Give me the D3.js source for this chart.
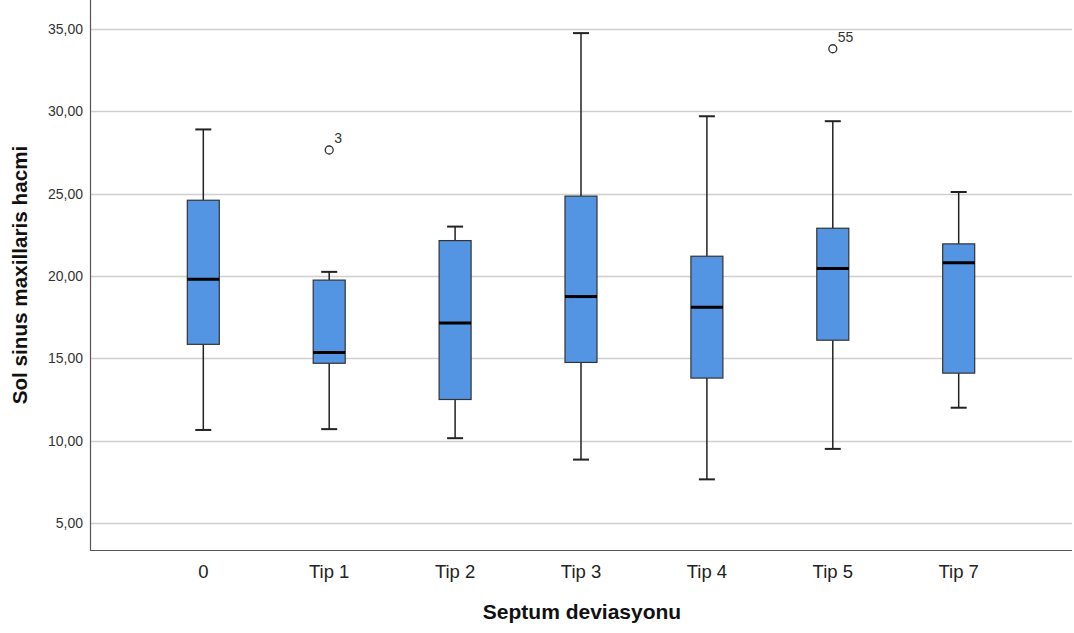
<!DOCTYPE html>
<html>
<head>
<meta charset="utf-8">
<script src="https://cdn.jsdelivr.net/npm/d3@7"></script>
<style>
  body { margin: 0; background: #fff; }
  text { font-family: Arial, "Liberation Sans", sans-serif; }
</style>
</head>
<body>
<svg id="chart" width="1074" height="633"></svg>
<script>
// values
const categories = ['0', 'Tip 1', 'Tip 2', 'Tip 3', 'Tip 4', 'Tip 5', 'Tip 7'];
const whiskerLow = [10.65, 10.7, 10.15, 8.85, 7.65, 9.5, 12.0];
const q1 = [15.85, 14.7, 12.5, 14.75, 13.8, 16.1, 14.1];
const median = [19.8, 15.35, 17.15, 18.75, 18.1, 20.45, 20.8];
const q3 = [24.6, 19.75, 22.15, 24.85, 21.2, 22.9, 21.95];
const whiskerHigh = [28.9, 20.25, 23.0, 34.75, 29.7, 29.4, 25.1];
const outliers = [
  { cat: 'Tip 1', value: 27.65, label: '3' },
  { cat: 'Tip 5', value: 33.8, label: '55' }
];
const yTicks = [5, 10, 15, 20, 25, 30, 35];

const svg = d3.select('#chart');
const plotLeft = 90, plotRight = 1072, plotTop = 0, plotBottom = 550;

const y = d3.scaleLinear().domain([3.36, 36.76]).range([plotBottom, plotTop]);
const x = d3.scalePoint().domain(categories).range([plotLeft, plotRight]).padding(0.9);

const fmt = v => d3.format('.2f')(v).replace('.', ',');

// grid
svg.append('g')
  .selectAll('line')
  .data(yTicks)
  .join('line')
  .attr('x1', plotLeft)
  .attr('x2', plotRight)
  .attr('y1', d => Math.round(y(d)) + 0.5)
  .attr('y2', d => Math.round(y(d)) + 0.5)
  .attr('stroke', '#cfcfcf')
  .attr('stroke-width', 1.5);

// y tick labels
svg.append('g')
  .selectAll('text')
  .data(yTicks)
  .join('text')
  .attr('x', plotLeft - 7)
  .attr('y', d => y(d))
  .attr('dy', '0.35em')
  .attr('text-anchor', 'end')
  .attr('font-size', 14)
  .attr('fill', '#333')
  .text(fmt);

// axes lines
svg.append('line')
  .attr('x1', plotLeft + 0.5).attr('x2', plotLeft + 0.5)
  .attr('y1', plotTop).attr('y2', plotBottom)
  .attr('stroke', '#555').attr('stroke-width', 1.2);
svg.append('line')
  .attr('x1', plotLeft).attr('x2', plotRight)
  .attr('y1', plotBottom + 0.5).attr('y2', plotBottom + 0.5)
  .attr('stroke', '#555').attr('stroke-width', 1.2);

// category labels
svg.append('g')
  .selectAll('text')
  .data(categories)
  .join('text')
  .attr('x', d => x(d))
  .attr('y', 578)
  .attr('text-anchor', 'middle')
  .attr('font-size', 18.5)
  .attr('fill', '#222')
  .text(d => d);

// axis titles
svg.append('text')
  .attr('x', 582)
  .attr('y', 619)
  .attr('text-anchor', 'middle')
  .attr('font-size', 21)
  .attr('font-weight', 'bold')
  .attr('fill', '#111')
  .text('Septum deviasyonu');

svg.append('text')
  .attr('transform', 'translate(27,275) rotate(-90)')
  .attr('text-anchor', 'middle')
  .attr('font-size', 20.7)
  .attr('font-weight', 'bold')
  .attr('fill', '#111')
  .text('Sol sinus maxillaris hacmi');

// boxes
const boxW = 32, capW = 16;
const boxes = categories.map((c, i) => ({
  cat: c, lo: whiskerLow[i], q1: q1[i], med: median[i], q3: q3[i], hi: whiskerHigh[i]
}));

const g = svg.append('g')
  .selectAll('g')
  .data(boxes)
  .join('g')
  .attr('transform', d => `translate(${x(d.cat)},0)`);

g.append('line')
  .attr('y1', d => y(d.hi)).attr('y2', d => y(d.q3))
  .attr('stroke', '#222').attr('stroke-width', 1.5);
g.append('line')
  .attr('y1', d => y(d.q1)).attr('y2', d => y(d.lo))
  .attr('stroke', '#222').attr('stroke-width', 1.5);
g.append('line')
  .attr('x1', -capW / 2).attr('x2', capW / 2)
  .attr('y1', d => y(d.hi)).attr('y2', d => y(d.hi))
  .attr('stroke', '#222').attr('stroke-width', 2);
g.append('line')
  .attr('x1', -capW / 2).attr('x2', capW / 2)
  .attr('y1', d => y(d.lo)).attr('y2', d => y(d.lo))
  .attr('stroke', '#222').attr('stroke-width', 2);
g.append('rect')
  .attr('x', -boxW / 2)
  .attr('width', boxW)
  .attr('y', d => y(d.q3))
  .attr('height', d => y(d.q1) - y(d.q3))
  .attr('fill', '#5395e3')
  .attr('stroke', '#333')
  .attr('stroke-width', 1.2);
g.append('line')
  .attr('x1', -boxW / 2).attr('x2', boxW / 2)
  .attr('y1', d => y(d.med)).attr('y2', d => y(d.med))
  .attr('stroke', '#000').attr('stroke-width', 3);

// outliers
const o = svg.append('g')
  .selectAll('g')
  .data(outliers)
  .join('g');
o.append('circle')
  .attr('cx', d => x(d.cat))
  .attr('cy', d => y(d.value))
  .attr('r', 4)
  .attr('fill', 'none')
  .attr('stroke', '#333')
  .attr('stroke-width', 1.3);
o.append('text')
  .attr('x', d => x(d.cat) + 5)
  .attr('y', d => y(d.value) - 7)
  .attr('font-size', 14)
  .attr('fill', '#333')
  .text(d => d.label);
</script>
</body>
</html>
